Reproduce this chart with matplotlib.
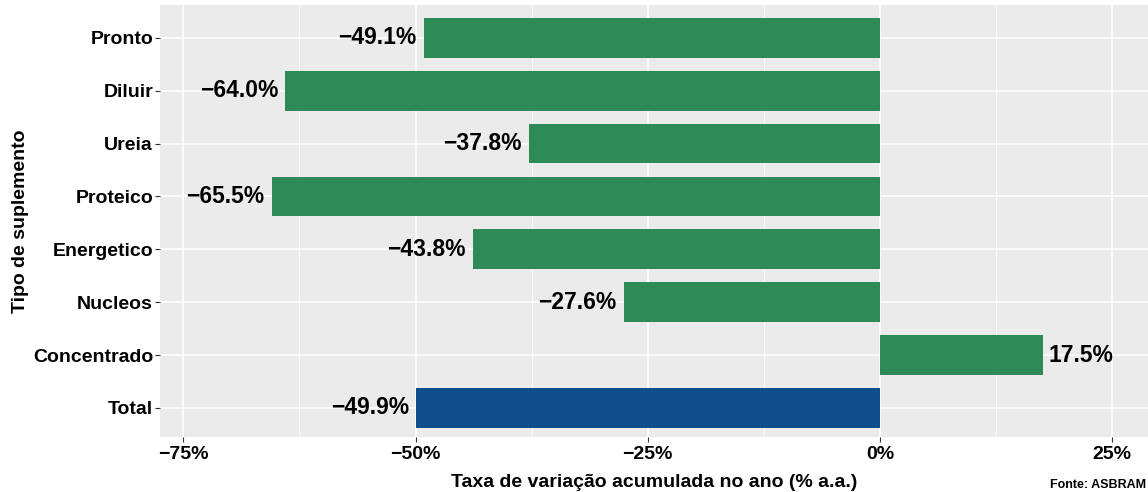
import matplotlib
matplotlib.use("Agg")
import matplotlib.pyplot as plt
from matplotlib.ticker import FixedLocator

categories = ["Total", "Concentrado", "Nucleos", "Energetico", "Proteico", "Ureia", "Diluir", "Pronto"]
values = [-49.9, 17.5, -27.6, -43.8, -65.5, -37.8, -64.0, -49.1]
colors = ["#104E8B"] + ["#2E8B57"] * 7
x_ticks = [-75, -50, -25, 0, 25]

plt.rcParams["font.family"] = ["Liberation Sans", "DejaVu Sans"]
plt.rcParams["font.weight"] = "bold"

fig = plt.figure(figsize=(11.48, 4.92), dpi=100)
ax = fig.add_axes([0.1394, 0.1118, 0.8606, 0.878])
ax.set_facecolor("#EBEBEB")

ypos = list(range(len(categories)))
ax.barh(ypos, values, height=0.75, color=colors, zorder=3)

for y, v in zip(ypos, values):
    txt = f"{v:.1f}%".replace("-", "\u2212")
    if v < 0:
        ax.text(v - 0.8, y, txt, ha="right", va="center", fontsize=16.5, fontweight="bold", zorder=4)
    else:
        ax.text(v + 0.6, y, txt, ha="left", va="center", fontsize=16.5, fontweight="bold", zorder=4)

ax.set_xlim(-77.5, 28.84)
ax.set_ylim(-0.55, 7.62)
ax.set_yticks(ypos)
ax.set_yticklabels(categories, fontsize=14, fontweight="bold")
ax.set_xticks(x_ticks)
ax.set_xticklabels([f"{t}%".replace("-", "\u2212") for t in x_ticks], fontsize=14, fontweight="bold")
ax.xaxis.set_minor_locator(FixedLocator([-62.5, -37.5, -12.5, 12.5]))
ax.tick_params(axis="both", which="major", length=3.5, color="#333333")
ax.tick_params(axis="y", which="major", pad=1.5)
ax.tick_params(axis="x", which="major", pad=3)
ax.tick_params(axis="x", which="minor", length=0)
ax.grid(which="major", color="white", linewidth=1.1, zorder=0)
ax.grid(which="minor", axis="x", color="white", linewidth=0.55, zorder=0)
ax.set_axisbelow(True)
for s in ax.spines.values():
    s.set_visible(False)

ax.set_xlabel("Taxa de variação acumulada no ano (% a.a.)", fontsize=14, fontweight="bold", labelpad=8)
ax.set_ylabel("Tipo de suplemento", fontsize=14, fontweight="bold", labelpad=3)
fig.text(0.998, 0.003, "Fonte: ASBRAM", ha="right", va="bottom", fontsize=9, fontweight="bold")

fig.savefig("out.png", dpi=100)
